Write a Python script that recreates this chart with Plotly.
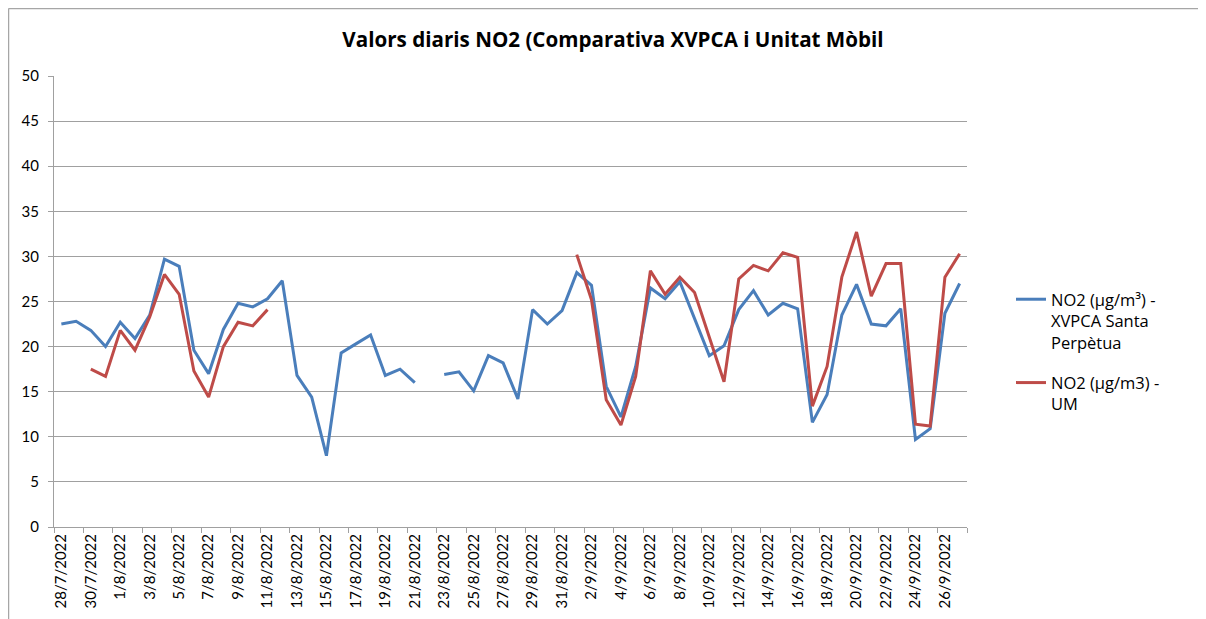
import plotly.graph_objects as go
import datetime as dt

start = dt.date(2022, 7, 28)
dates = [start + dt.timedelta(days=i) for i in range(62)]
date_labels = [f"{d.day}/{d.month}/{d.year}" for d in dates]

xvpca = [22.5, 22.8, 21.8, 20.0, 22.7, 20.9, 23.5, 29.7, 28.9, 19.6,
         17.0, 21.9, 24.8, 24.4, 25.3, 27.3, 16.8, 14.4, 7.9, 19.3,
         20.3, 21.3, 16.8, 17.5, 16.0, None, 16.9, 17.2, 15.1, 19.0,
         18.2, 14.2, 24.1, 22.5, 24.0, 28.2, 26.8, 15.6, 12.2, 17.8,
         26.5, 25.3, 27.2, 23.0, 19.0, 20.1, 24.1, 26.2, 23.5, 24.8,
         24.2, 11.6, 14.7, 23.5, 26.9, 22.5, 22.3, 24.2, 9.7, 10.9,
         23.7, 27.0]

um = [None, None, 17.5, 16.7, 21.8, 19.6, 23.3, 28.0, 25.8, 17.3,
      14.4, 20.0, 22.7, 22.3, 24.1, None, None, None, None, None,
      None, None, None, None, None, None, None, None, None, None,
      None, None, None, None, None, 30.2, 25.2, 14.1, 11.3, 16.7,
      28.4, 25.8, 27.7, 26.0, 21.1, 16.1, 27.5, 29.0, 28.4, 30.4,
      29.9, 13.4, 17.8, 27.7, 32.7, 25.6, 29.2, 29.2, 11.4, 11.2,
      27.7, 30.3]

names = ["NO2 (µg/m³) -<br>XVPCA Santa<br>Perpètua", "NO2 (µg/m3) -<br>UM"]
colors = ["#4A7EBB", "#BE4B48"]

idx = list(range(len(dates)))
fig = go.Figure()
for i, (ys, nm, col) in enumerate(zip([xvpca, um], names, colors)):
    fig.add_trace(go.Scatter(x=idx, y=ys, mode="lines", name=nm,
                             line=dict(color=col, width=3),
                             connectgaps=False, legendgroup=f"g{i}"))

FONT = "Lato"
OFF = 8  # page body margin
L, R, T, B = 54 - OFF, 967 - OFF, 76 - OFF, 527 - OFF
W, H = 1206 - OFF, 619 - OFF
grid = "#a0a0a0"

fig.update_layout(
    width=W, height=H,
    margin=dict(l=L, r=W - R, t=T, b=H - B),
    paper_bgcolor="white", plot_bgcolor="white",
    font=dict(family=FONT, size=15, color="black"),
    title=dict(text="<b>Valors diaris NO2 (Comparativa XVPCA i Unitat Mòbil</b>",
               x=(613 - OFF) / W, xref="container", xanchor="center",
               y=1 - (40 - OFF) / H, yref="container", yanchor="middle",
               font=dict(family="Open Sans", size=20.6, color="black")),
    legend=dict(x=(1011 - OFF - L) / (R - L), xanchor="left",
                y=(B - (282 - OFF)) / (B - T), yanchor="top",
                traceorder="grouped", tracegroupgap=16, valign="top",
                font=dict(family="Open Sans", size=16.5), bgcolor="rgba(0,0,0,0)"),
    showlegend=True,
)

fig.update_xaxes(
    range=[-0.5, len(dates) - 0.5],
    tickmode="array", tickvals=idx[::2], ticktext=date_labels[::2],
    tickangle=-90, ticks="", showgrid=False,
    showline=True, linecolor=grid, linewidth=1,
    tickfont=dict(family=FONT, size=15),
    minor=dict(tickmode="array", tickvals=[k - 0.5 for k in range(0, 63, 2)],
               ticks="outside", ticklen=5, tickcolor=grid, showgrid=False),
    zeroline=False, fixedrange=True,
)
fig.update_yaxes(
    range=[0, 50], tickmode="linear", tick0=0, dtick=5,
    showgrid=True, gridcolor=grid, gridwidth=1,
    showline=True, linecolor=grid, linewidth=1,
    ticks="outside", ticklen=5, tickcolor=grid,
    ticklabelstandoff=6,
    tickfont=dict(family=FONT, size=15),
    zeroline=False, fixedrange=True,
)

# chart area border (left and top edges visible)
x0 = (0.5 - L) / (R - L)
y_top = (B - 0.5) / (B - T)
y_bot = (B - (H + 20)) / (B - T)
x_right = (W + 20 - L) / (R - L)
fig.add_shape(type="line", xref="paper", yref="paper", x0=x0, x1=x0, y0=y_bot, y1=y_top,
              line=dict(color="#a6a6a6", width=1.5))
fig.add_shape(type="line", xref="paper", yref="paper", x0=x0, x1=x_right, y0=y_top, y1=y_top,
              line=dict(color="#a6a6a6", width=1.5))

fig.write_html("out.html")
